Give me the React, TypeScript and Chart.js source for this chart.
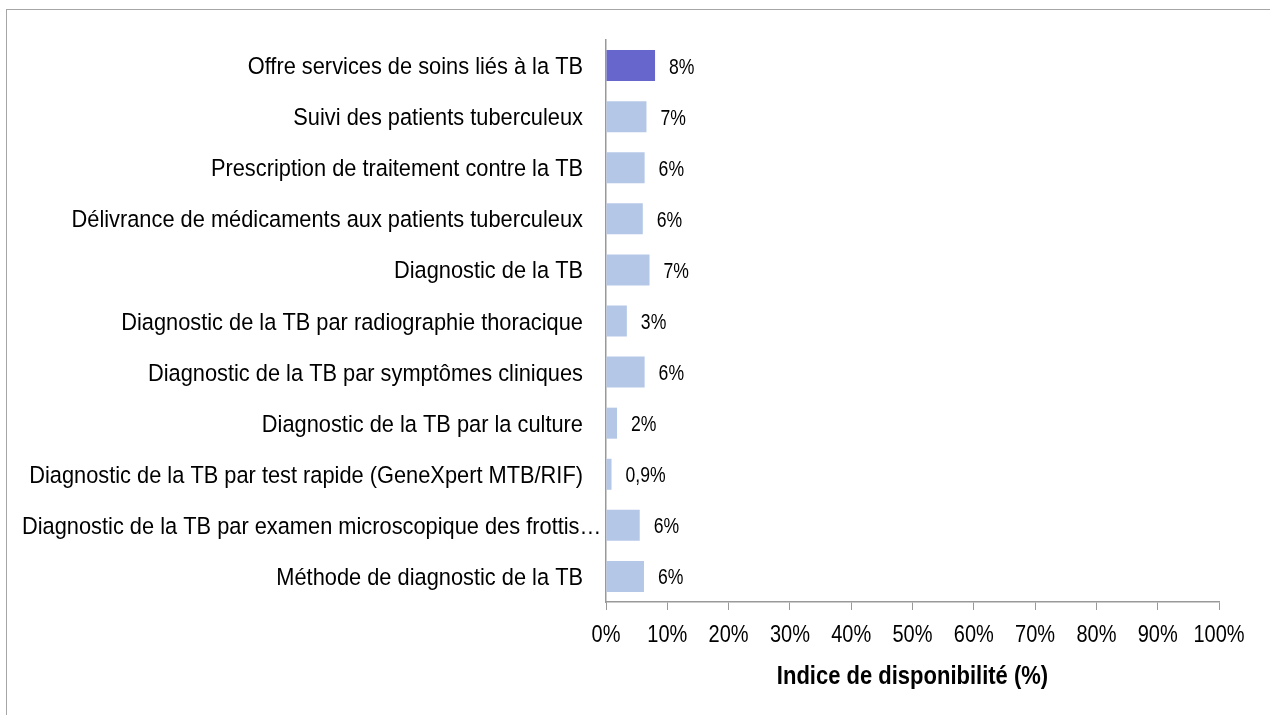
import React, { useEffect, useRef } from "react";
import { Chart, registerables } from "chart.js";

Chart.register(...registerables);

const categories = [
  "Offre services de soins liés à la TB",
  "Suivi des patients tuberculeux",
  "Prescription de traitement contre la TB",
  "Délivrance de médicaments aux patients tuberculeux",
  "Diagnostic de la TB",
  "Diagnostic de la TB par radiographie thoracique",
  "Diagnostic de la TB par symptômes cliniques",
  "Diagnostic de la TB par la culture",
  "Diagnostic de la TB par test rapide (GeneXpert MTB/RIF)",
  "Diagnostic de la TB par examen microscopique des frottis…",
  "Méthode de diagnostic de la TB",
];

const values = [8.0, 6.6, 6.3, 6.0, 7.1, 3.4, 6.3, 1.8, 0.9, 5.5, 6.2];

const valueLabels = ["8%", "7%", "6%", "6%", "7%", "3%", "6%", "2%", "0,9%", "6%", "6%"];

const highlightIndex = 0;

const xTicks = [0, 10, 20, 30, 40, 50, 60, 70, 80, 90, 100];

const axisTitle = "Indice de disponibilité (%)";

const FONT = "'Liberation Sans Narrow', 'Arial Narrow', 'Liberation Sans', Arial, sans-serif";

// draw text condensed horizontally (tall narrow glyphs as in the reference)
function drawText(
  ctx: CanvasRenderingContext2D,
  text: string,
  x: number,
  y: number,
  font: string,
  sx: number,
  align: CanvasTextAlign
) {
  ctx.save();
  ctx.font = font;
  ctx.fillStyle = "#000";
  ctx.textAlign = align;
  ctx.textBaseline = "alphabetic";
  ctx.translate(x, y);
  ctx.scale(sx, 1);
  ctx.fillText(text, 0, 0);
  ctx.restore();
}

function measure(ctx: CanvasRenderingContext2D, text: string, font: string, sx: number) {
  ctx.save();
  ctx.font = font;
  const w = ctx.measureText(text).width * sx;
  ctx.restore();
  return w;
}

const textPlugin = {
  id: "condensedText",
  afterDraw(chart: any) {
    const ctx = chart.ctx as CanvasRenderingContext2D;
    const xs = chart.scales.x;
    const ys = chart.scales.y;
    const area = chart.chartArea;

    // category labels
    const labelFont = `24.5px ${FONT}`;
    const labelSx = 0.89;
    const minLeft = 22;
    categories.forEach((label, i) => {
      const y = ys.getPixelForValue(i) + 8.5;
      const right = area.left - 23;
      const w = measure(ctx, label, labelFont, labelSx);
      if (right - w < minLeft) {
        drawText(ctx, label, minLeft, y, labelFont, labelSx, "left");
      } else {
        drawText(ctx, label, right, y, labelFont, labelSx, "right");
      }
    });

    // x tick labels
    xTicks.forEach((v) => {
      const x = xs.getPixelForValue(v);
      drawText(ctx, `${v}%`, x, area.bottom + 40, `24px ${FONT}`, 0.833, "center");
    });

    // data labels
    const meta = chart.getDatasetMeta(0);
    meta.data.forEach((bar: any, i: number) => {
      drawText(ctx, valueLabels[i], bar.x + 14, bar.y + 8, `22px ${FONT}`, 0.8, "left");
    });

    // axis title
    drawText(
      ctx,
      axisTitle,
      (area.left + area.right) / 2,
      area.bottom + 82,
      `bold 26.5px ${FONT}`,
      0.83,
      "center"
    );
  },
};

export default function App() {
  const canvasRef = useRef<HTMLCanvasElement | null>(null);

  useEffect(() => {
    const canvas = canvasRef.current;
    if (!canvas) return;
    const chart = new Chart(canvas, {
      type: "bar",
      data: {
        labels: categories,
        datasets: [
          {
            data: values,
            backgroundColor: values.map((_, i) => (i === highlightIndex ? "#6666CC" : "#B4C7E7")),
            borderWidth: 0,
            categoryPercentage: 1,
            barPercentage: 0.607,
          },
        ],
      },
      options: {
        indexAxis: "y",
        responsive: false,
        animation: false,
        layout: { padding: { left: 0, right: 51, top: 40, bottom: 0 } },
        plugins: {
          legend: { display: false },
          tooltip: { enabled: false },
        },
        scales: {
          x: {
            min: 0,
            max: 100,
            afterBuildTicks(scale: any) {
              scale.ticks = xTicks.map((v) => ({ value: v }));
            },
            afterFit(scale: any) {
              scale.height = 113;
            },
            ticks: {
              display: false,
              autoSkip: false,
            },
            grid: {
              drawOnChartArea: false,
              drawTicks: true,
              tickLength: 8,
              color: "#999999",
            },
            border: { display: true, color: "#999999", width: 1.5 },
            title: { display: false },
          },
          y: {
            afterFit(scale: any) {
              scale.width = 606;
            },
            ticks: { display: false, autoSkip: false },
            grid: { drawOnChartArea: false, drawTicks: false },
            border: { display: true, color: "#999999", width: 1.5 },
          },
        },
      },
      plugins: [textPlugin],
    });
    return () => chart.destroy();
  }, []);

  return (
    <div style={{ position: "fixed", left: 0, top: 0, width: 1270, height: 715, background: "#fff", overflow: "hidden" }}>
      <div
        style={{
          position: "absolute",
          left: 6,
          top: 9,
          width: 1300,
          height: 800,
          border: "1px solid #a6a6a6",
          boxSizing: "border-box",
        }}
      />
      <canvas ref={canvasRef} width={1270} height={715} style={{ position: "absolute", left: 0, top: 0 }} />
    </div>
  );
}
